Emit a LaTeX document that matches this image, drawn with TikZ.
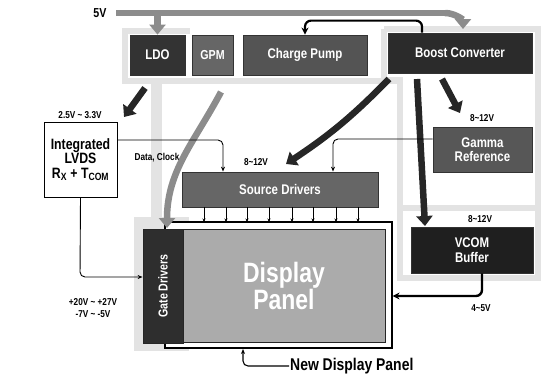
\documentclass[tikz,border=0pt]{standalone}
\usepackage{fontspec}
\setmainfont{Liberation Sans}[FakeStretch=0.82]
\usetikzlibrary{arrows.meta,calc}
\definecolor{chipbg}{HTML}{E3E3E3}
\definecolor{busgray}{HTML}{8C8C8C}
\begin{document}
\begin{tikzpicture}[x=1pt,y=-1pt,
  blk/.style={draw=black!80,line width=0.8pt,text=white,font=\bfseries\fontsize{14}{15}\selectfont,align=center,inner sep=0pt},
  lbl/.style={font=\bfseries\fontsize{10}{11}\selectfont,inner sep=1pt},
  fat/.style={line width=6.5pt,black!85,-{Triangle[length=10pt,width=16pt]}},
  fatgray/.style={line width=6.5pt,busgray,-{Triangle[length=10pt,width=16pt]}},
  sig/.style={line width=0.9pt,rounded corners=5pt,-{Stealth[length=5pt,width=4pt]}},
  thicksig/.style={line width=2.4pt,rounded corners=6pt,-{Stealth[length=7pt,width=7pt]}},
  chip/.style={chipbg,line width=6pt},
  tick/.style={line width=0.5pt,-{Stealth[length=3.5pt,width=3pt]}}]
\useasboundingbox (0,0) rectangle (541,375);
% light chip outlines
\draw[chip] (190,31) -- (125,31) -- (125,81) -- (398,81);
\draw[chip,line width=11pt] (156,81) -- (156,220);
\fill[chipbg] (134,217) rectangle (189,351);
\draw[chip] (384,29) -- (538,29) -- (538,278) -- (400,278) -- (400,208) -- (538,208);
\draw[chip] (384,29) -- (384,80) -- (400,80) -- (400,208);
% top blocks
\node[blk,fill=black!80,minimum width=55pt,minimum height=40pt] (ldo) at (157.5,55) {LDO};
\node[blk,fill=black!60,minimum width=41pt,minimum height=40pt,font=\bfseries\fontsize{13}{14}\selectfont] (gpm) at (212.5,55) {GPM};
\node[blk,fill=black!67,minimum width=124pt,minimum height=40pt] (cp) at (305,55) {Charge Pump};
\node[blk,fill=black!83,minimum width=144pt,minimum height=40pt] (boost) at (460,53) {Boost Converter};
\node[blk,fill=black!66,minimum width=99pt,minimum height=45pt,font=\bfseries\fontsize{14}{14.5}\selectfont] (gamma) at (482.5,149.5) {Gamma\\Reference};
\node[blk,fill=black!88,minimum width=122pt,minimum height=46pt,font=\bfseries\fontsize{14}{14.5}\selectfont] (vcom) at (472,250) {VCOM\\Buffer};
\node[blk,fill=black!60,minimum width=196pt,minimum height=35pt] (src) at (280,189.5) {Source Drivers};
\node[draw=black,line width=1pt,fill=white,minimum width=73pt,minimum height=75pt,align=center,inner sep=0pt,font=\bfseries\fontsize{15}{14.5}\selectfont] (lvds) at (80.5,159.5) {Integrated\\LVDS\\R\textsubscript{X} + T\textsubscript{COM}};
% display panel
\node[draw=black,line width=1.2pt,fill=white,minimum width=227pt,minimum height=126pt,inner sep=0pt] (frame) at (278.5,285) {};
\node[draw=black!85,line width=0.8pt,fill=black!33,minimum width=202pt,minimum height=113pt,text=white,align=center,font=\bfseries\fontsize{28}{27}\selectfont,inner sep=0pt] (panel) at (284,285.5) {Display\\Panel};
\node[draw=black!85,line width=0.8pt,fill=black!82,minimum width=40pt,minimum height=114pt,inner sep=0pt] (gate) at (163,286) {};
\node[text=white,rotate=90,font=\bfseries\fontsize{13}{14}\selectfont] (gatet) at (gate.center) {Gate Drivers};
% labels
\node[font=\bfseries\fontsize{13}{14}\selectfont] (v5) at (100,13) {5V};
\node[lbl] (l25) at (80,115) {2.5V \textasciitilde\ 3.3V};
\node[lbl] (ldc) at (157,158) {Data, Clock};
\node[lbl] (l812a) at (256,162) {8\textasciitilde12V};
\node[lbl] (l812b) at (482,118) {8\textasciitilde12V};
\node[lbl] (l812c) at (480,219) {8\textasciitilde12V};
\node[lbl] (l45) at (481,308) {4\textasciitilde5V};
\node[lbl,align=center,font=\bfseries\fontsize{10}{12}\selectfont] (lgv) at (93,308) {+20V \textasciitilde\ +27V\\-7V \textasciitilde\ -5V};
\node[anchor=west,font=\bfseries\fontsize{17}{18}\selectfont,inner sep=1pt] (ndp) at (289,366) {New Display Panel};
% 5V bus
\coordinate (busL) at (118,13);
\draw[line width=6.5pt,busgray] ($(v5.east)+(6,0)$) -- (445,13);
\draw[fatgray] (445,13) to[out=0,in=90] (463,29);
\draw[fatgray] (ldo.north |- busL) -- (ldo.north);
% boost to charge pump
\draw[thicksig,line width=2.2pt] ($(boost.north)+(-38,0)$) -- ++(0,-12) -| (cp.north);
% power arrows
\draw[fat] (145,88) -- (124,117);
\draw[fatgray] (221,92) to[out=-118,in=90] (167,228);
\draw[fat] (389,79) to[bend left=6] (286,164);
\draw[fat] (442,79) -- (460,113);
\draw[fat] (417,79) -- (425,226);
% signals
\draw[sig] (lvds.east |- 0,140) -- (223,140) -- (src.north -| 223,0);
\draw[sig] (gamma.west |- 0,139) -- (333,139) -- (src.north -| 333,0);
\draw[sig] (lvds.south) -- (80,277) -- (gate.west |- 0,277);
\draw[thicksig] (vcom.south -| 482,0) -- (482,296) -- (frame.east |- 0,296);
\foreach \x in {204,226,247,269,292,313,336,358}
  \draw[tick] (\x,207) -- (\x,222);
\draw[sig,line width=1.1pt] (ndp.west) -- (243,366) -- (243,349);
\end{tikzpicture}
\end{document}
